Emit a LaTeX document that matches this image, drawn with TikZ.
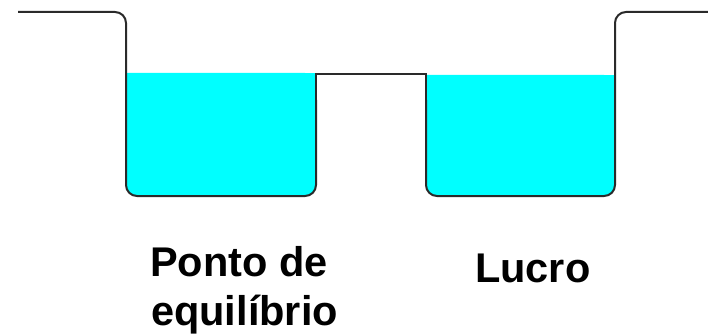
\documentclass[tikz,border=0pt]{standalone}
\usepackage{fontspec}
\setmainfont{Liberation Sans}
\definecolor{water}{HTML}{00FFFF}
\definecolor{edge}{HTML}{2A2A2A}
\begin{document}
\begin{tikzpicture}[x=1pt,y=-1pt,
  wall/.style={draw=edge,line width=2pt,rounded corners=11pt},
  ledge/.style={draw=edge,line width=2pt},
  label/.style={anchor=base west,inner sep=0pt,font=\fontsize{41.5}{46}\selectfont\bfseries}]
\useasboundingbox (0,0) rectangle (708,334);
% water
\fill[water,rounded corners=11pt] (126,73) -- (126,196) -- (316,196) -- (316,73) [sharp corners] -- cycle;
\fill[water] (126,73) rectangle (316,120);
\fill[water,rounded corners=11pt] (426,75) -- (426,196) -- (615,196) -- (615,75) [sharp corners] -- cycle;
\fill[water] (426,75) rectangle (615,120);
% outline
\draw[wall] (18,12) -- (126,12) -- (126,196) -- (316,196) -- (316,100);
\draw[ledge] (316,110) -- (316,74) -- (426,74) -- (426,110);
\draw[wall] (426,100) -- (426,196) -- (615,196) -- (615,12) -- (708,12);
% labels
\node[label] (pe1) at (150,276) {Ponto de};
\node[label] (pe2) at (151,325) {equilíbrio};
\node[label] (lu) at (475,282) {Lucro};
\end{tikzpicture}
\end{document}
